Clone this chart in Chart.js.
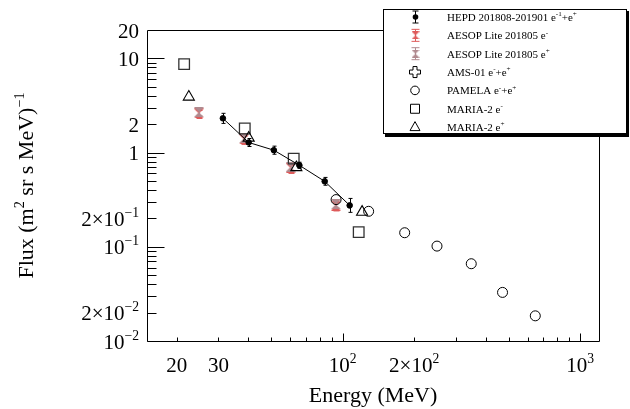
<!DOCTYPE html>
<html lang="en">
<head>
  <meta charset="UTF-8">
  <title>Flux vs Energy</title>
  <script src="https://cdn.jsdelivr.net/npm/chart.js"></script>
  <style>
    html, body { margin: 0; padding: 0; background: #fff; }
    #cadre { width: 630px; height: 409px; }
  </style>
</head>
<body>
  <div id="cadre"><canvas id="grafico" width="630" height="409"></canvas></div>

  <script>
    // valeurs (énergie en MeV, flux en (m2 sr s MeV)^-1)
    const hepdEnergie = [31.3, 40.2, 51.3, 65.7, 84.0, 107];
    const hepdFlux    = [2.31, 1.28, 1.06, 0.733, 0.495, 0.275];
    const hepdBas     = [2.04, 1.16, 0.96, 0.68, 0.45, 0.232];
    const hepdHaut    = [2.61, 1.41, 1.17, 0.79, 0.545, 0.326];

    const aesopEnergie   = [24.8, 38.4, 60.3, 93.6];
    const aesopElecFlux  = [2.60, 1.38, 0.685, 0.274];
    const aesopElecBas   = [2.30, 1.22, 0.60, 0.24];
    const aesopElecHaut  = [2.80, 1.49, 0.74, 0.295];
    const aesopPosFlux   = [2.68, 1.42, 0.706, 0.282];
    const aesopPosBas    = [2.45, 1.30, 0.645, 0.258];
    const aesopPosHaut   = [2.93, 1.55, 0.77, 0.308];

    const amsEnergie = [];
    const amsFlux    = [];

    const pamelaEnergie = [93.8, 128.6, 182.4, 249.5, 347.8, 471, 647];
    const pamelaFlux    = [0.317, 0.238, 0.141, 0.1017, 0.0661, 0.0328, 0.0185];

    const mariaElecEnergie = [21.5, 38.7, 62.2, 116.8];
    const mariaElecFlux    = [8.68, 1.80, 0.863, 0.143];
    const mariaPosEnergie  = [22.5, 40.2, 63.8, 120.7];
    const mariaPosFlux     = [3.9, 1.43, 0.695, 0.234];

    const xTicksValeurs = [20, 30, 100, 200, 1000];
    const xTicksTextes  = ['20', '30', '10^{2}', '2×10^{2}', '10^{3}'];
    const yTicksValeurs = [20, 10, 2, 1, 0.2, 0.1, 0.02, 0.01];
    const yTicksTextes  = ['20', '10', '2', '1', '2×10^{−1}', '10^{−1}', '2×10^{−2}', '10^{−2}'];

    const legendeTextes = [
      'HEPD 201808-201901 e^{-1}+e^{+}',
      'AESOP Lite 201805 e^{-}',
      'AESOP Lite 201805 e^{+}',
      'AMS-01 e^{-}+e^{+}',
      'PAMELA e^{-}+e^{+}',
      'MARIA-2 e^{-}',
      'MARIA-2 e^{+}'
    ];

    const ROUGE = '#de5a5a';
    const MAUVE = '#b08a8f';
    const POLICE = '"Liberation Serif", "Times New Roman", serif';

    function points(xs, ys) {
      return xs.map((x, i) => ({ x: x, y: ys[i] }));
    }

    function sablier(couleur, n) {
      const c = document.createElement('canvas');
      c.width = n; c.height = n;
      const g = c.getContext('2d');
      g.fillStyle = couleur;
      g.beginPath();
      g.moveTo(0, 0); g.lineTo(n, 0); g.lineTo(0, n); g.lineTo(n, n);
      g.closePath();
      g.fill();
      return c;
    }

    // texte avec exposants écrits ^{...}
    function decouper(texte) {
      const morceaux = [];
      const re = /\^\{([^}]*)\}/g;
      let dernier = 0, m;
      while ((m = re.exec(texte))) {
        if (m.index > dernier) morceaux.push({ t: texte.slice(dernier, m.index), sup: false });
        morceaux.push({ t: m[1], sup: true });
        dernier = re.lastIndex;
      }
      if (dernier < texte.length) morceaux.push({ t: texte.slice(dernier), sup: false });
      return morceaux;
    }

    function ecrire(ctx, texte, x, y, taille, align) {
      const morceaux = decouper(texte);
      let largeur = 0;
      morceaux.forEach(p => {
        ctx.font = `${p.sup ? taille * 0.65 : taille}px ${POLICE}`;
        p.w = ctx.measureText(p.t).width;
        largeur += p.w;
      });
      let cx = align === 'right' ? x - largeur : align === 'center' ? x - largeur / 2 : x;
      ctx.textAlign = 'left';
      ctx.textBaseline = 'alphabetic';
      ctx.fillStyle = '#000';
      morceaux.forEach(p => {
        ctx.font = `${p.sup ? taille * 0.65 : taille}px ${POLICE}`;
        ctx.fillText(p.t, cx, p.sup ? y - taille * 0.42 : y);
        cx += p.w;
      });
    }

    function barre(ctx, x, y1, y2, cap, couleur) {
      ctx.strokeStyle = couleur;
      ctx.lineWidth = 1;
      ctx.beginPath();
      ctx.moveTo(x, y1); ctx.lineTo(x, y2);
      if (cap) {
        ctx.moveTo(x - cap, y1); ctx.lineTo(x + cap, y1);
        ctx.moveTo(x - cap, y2); ctx.lineTo(x + cap, y2);
      }
      ctx.stroke();
    }

    const erreurs = {
      0: { e: hepdEnergie, bas: hepdBas, haut: hepdHaut, c: '#000', cap: 2 },
      1: { e: aesopEnergie, bas: aesopElecBas, haut: aesopElecHaut, c: ROUGE, cap: 3 },
      2: { e: aesopEnergie, bas: aesopPosBas, haut: aesopPosHaut, c: MAUVE, cap: 3 }
    };

    const pluginErreurs = {
      id: 'erreurs',
      beforeDatasetDraw(chart, args) {
        const err = erreurs[args.index];
        if (!err) return;
        const ctx = chart.ctx;
        const xs = chart.scales.x, ys = chart.scales.y;
        ctx.save();
        err.e.forEach((e, i) => {
          const px = Math.round(xs.getPixelForValue(e)) + 0.5;
          barre(ctx, px, ys.getPixelForValue(err.haut[i]), ys.getPixelForValue(err.bas[i]), err.cap, err.c);
        });
        ctx.restore();
      }
    };

    const pluginAxes = {
      id: 'axes',
      beforeDatasetsDraw(chart) {
        const ctx = chart.ctx;
        const a = chart.chartArea;
        const xs = chart.scales.x, ys = chart.scales.y;
        ctx.save();
        ctx.strokeStyle = '#000';
        ctx.lineWidth = 1;
        const g = Math.round(a.left) + 0.5, d = Math.round(a.right) + 0.5;
        const h = Math.round(a.top) + 0.5, b = Math.round(a.bottom) + 0.5;
        ctx.beginPath();
        ctx.rect(g, h, d - g, b - h);
        // graduations axe y
        for (let k = -2; k <= 1; k++) {
          const py = Math.round(ys.getPixelForValue(Math.pow(10, k))) + 0.5;
          ctx.moveTo(g, py); ctx.lineTo(g + 17, py);
          if (k === 1) continue;
          for (let m = 2; m <= 9; m++) {
            const pm = Math.round(ys.getPixelForValue(m * Math.pow(10, k))) + 0.5;
            ctx.moveTo(g, pm); ctx.lineTo(g + 9, pm);
          }
        }
        // graduations axe x
        for (let k = 1; k <= 3; k++) {
          const px = Math.round(xs.getPixelForValue(Math.pow(10, k))) + 0.5;
          if (k > 1) { ctx.moveTo(px, b); ctx.lineTo(px, b - 8); }
          if (k === 3) continue;
          for (let m = 2; m <= 9; m++) {
            const pm = Math.round(xs.getPixelForValue(m * Math.pow(10, k))) + 0.5;
            ctx.moveTo(pm, b); ctx.lineTo(pm, b - 4);
          }
        }
        ctx.stroke();

        yTicksValeurs.forEach((v, i) => {
          ecrire(ctx, yTicksTextes[i], 139, ys.getPixelForValue(v) + 7.5, 21, 'right');
        });
        xTicksValeurs.forEach((v, i) => {
          ecrire(ctx, xTicksTextes[i], xs.getPixelForValue(v), 372, 21, 'center');
        });

        ecrire(ctx, 'Energy (MeV)', (a.left + a.right) / 2, 402, 22, 'center');
        ctx.translate(33, (a.top + a.bottom) / 2);
        ctx.rotate(-Math.PI / 2);
        ecrire(ctx, 'Flux (m^{2} sr s MeV)^{−1}', 0, 0, 22, 'center');
        ctx.restore();
      }
    };

    function marqueur(ctx, type, x, y) {
      ctx.save();
      ctx.lineWidth = 1;
      ctx.strokeStyle = '#000';
      ctx.fillStyle = '#000';
      ctx.beginPath();
      if (type === 'hepd') {
        barre(ctx, x + 0.5, y - 6, y + 6, 3, '#000');
        ctx.beginPath();
        ctx.arc(x + 0.5, y, 2.8, 0, 2 * Math.PI);
        ctx.fill();
      } else if (type === 'aesopE' || type === 'aesopP') {
        const c = type === 'aesopE' ? ROUGE : MAUVE;
        barre(ctx, x + 0.5, y - 6, y + 6, 4, c);
        ctx.drawImage(sablier(c, 8), x - 3.5, y - 4);
      } else if (type === 'ams') {
        const s = 2, l = 5.5;
        ctx.moveTo(x - s, y - l); ctx.lineTo(x + s, y - l); ctx.lineTo(x + s, y - s);
        ctx.lineTo(x + l, y - s); ctx.lineTo(x + l, y + s); ctx.lineTo(x + s, y + s);
        ctx.lineTo(x + s, y + l); ctx.lineTo(x - s, y + l); ctx.lineTo(x - s, y + s);
        ctx.lineTo(x - l, y + s); ctx.lineTo(x - l, y - s); ctx.lineTo(x - s, y - s);
        ctx.closePath();
        ctx.stroke();
      } else if (type === 'cercle') {
        ctx.arc(x, y, 4.3, 0, 2 * Math.PI);
        ctx.stroke();
      } else if (type === 'carre') {
        ctx.rect(x - 4.5, y - 4.5, 9, 9);
        ctx.stroke();
      } else if (type === 'triangle') {
        ctx.moveTo(x, y - 5.5); ctx.lineTo(x + 5, y + 3.5); ctx.lineTo(x - 5, y + 3.5);
        ctx.closePath();
        ctx.stroke();
      }
      ctx.restore();
    }

    const legendeTypes = ['hepd', 'aesopE', 'aesopP', 'ams', 'cercle', 'carre', 'triangle'];

    const pluginLegende = {
      id: 'legende',
      afterDraw(chart) {
        const ctx = chart.ctx;
        ctx.save();
        ctx.fillStyle = '#000';
        ctx.fillRect(385, 11, 244, 126);
        ctx.fillStyle = '#fff';
        ctx.fillRect(383, 9, 243, 124);
        ctx.strokeStyle = '#000';
        ctx.lineWidth = 1;
        ctx.strokeRect(383.5, 9.5, 243, 124);
        legendeTextes.forEach((t, i) => {
          const y = 17 + i * 18.35;
          marqueur(ctx, legendeTypes[i], 415, y);
          ecrire(ctx, t, 447, y + 4, 11, 'left');
        });
        ctx.restore();
      }
    };

    new Chart(document.getElementById('grafico'), {
      type: 'scatter',
      data: {
        datasets: [
          {
            label: 'HEPD 201808-201901',
            data: points(hepdEnergie, hepdFlux),
            showLine: true,
            borderColor: '#000',
            borderWidth: 1,
            pointRadius: 2.8,
            pointBackgroundColor: '#000',
            pointBorderColor: '#000',
            order: 0
          },
          {
            label: 'AESOP Lite 201805 e-',
            data: points(aesopEnergie, aesopElecFlux),
            pointStyle: sablier(ROUGE, 10),
            order: 6
          },
          {
            label: 'AESOP Lite 201805 e+',
            data: points(aesopEnergie, aesopPosFlux),
            pointStyle: sablier(MAUVE, 10),
            order: 5
          },
          {
            label: 'AMS-01 e-+e+',
            data: points(amsEnergie, amsFlux),
            pointStyle: 'cross',
            order: 4
          },
          {
            label: 'PAMELA e-+e+',
            data: points(pamelaEnergie, pamelaFlux),
            pointStyle: 'circle',
            pointRadius: 5,
            pointBorderWidth: 1,
            pointBorderColor: '#000',
            pointBackgroundColor: 'rgba(0,0,0,0)',
            order: 3
          },
          {
            label: 'MARIA-2 e-',
            data: points(mariaElecEnergie, mariaElecFlux),
            pointStyle: 'rect',
            pointRadius: 7.5,
            pointBorderWidth: 1.3,
            pointBorderColor: '#333',
            pointBackgroundColor: 'rgba(0,0,0,0)',
            order: 2
          },
          {
            label: 'MARIA-2 e+',
            data: points(mariaPosEnergie, mariaPosFlux),
            pointStyle: 'triangle',
            pointRadius: 6.4,
            pointBorderWidth: 1.1,
            pointBorderColor: '#000',
            pointBackgroundColor: 'rgba(0,0,0,0)',
            order: 1
          }
        ]
      },
      options: {
        responsive: false,
        animation: false,
        devicePixelRatio: 1,
        events: [],
        layout: { padding: { left: 147, right: 31, top: 30, bottom: 68 } },
        plugins: {
          legend: { display: false },
          tooltip: { enabled: false }
        },
        scales: {
          x: { type: 'logarithmic', min: 15, max: 1200, display: false },
          y: { type: 'logarithmic', min: 0.01, max: 20, display: false }
        }
      },
      plugins: [pluginAxes, pluginErreurs, pluginLegende]
    });
  </script>
</body>
</html>
